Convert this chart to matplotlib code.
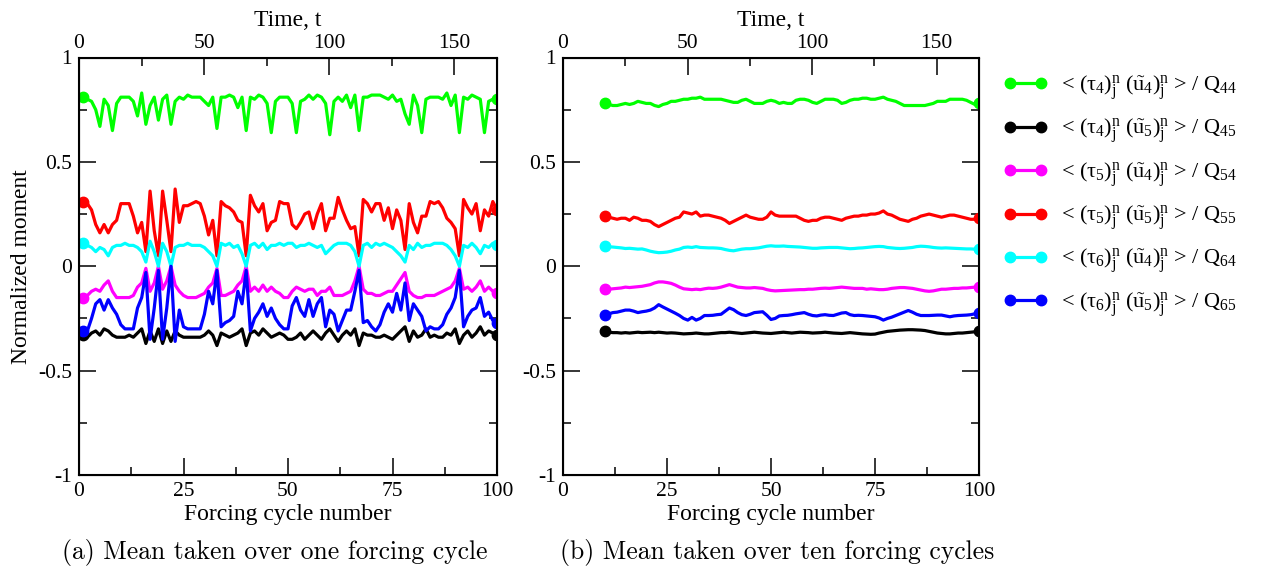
import matplotlib
matplotlib.use("Agg")
import matplotlib.pyplot as plt
import numpy as np

plt.rcParams['font.family'] = ['Liberation Serif', 'DejaVu Serif']
plt.rcParams['mathtext.fontset'] = 'stix'
plt.rcParams['mathtext.default'] = 'regular'
plt.rcParams['axes.unicode_minus'] = False

# (a) one-cycle means, forcing cycles 1..100
cycles_a = list(range(1, 101))
green_a = [0.81, 0.80, 0.79, 0.75, 0.67, 0.80, 0.77, 0.65, 0.78, 0.81,
           0.81, 0.81, 0.79, 0.72, 0.83, 0.68, 0.77, 0.81, 0.70, 0.80,
           0.82, 0.68, 0.79, 0.81, 0.80, 0.82, 0.81, 0.81, 0.81, 0.79,
           0.77, 0.81, 0.66, 0.81, 0.81, 0.82, 0.81, 0.76, 0.81, 0.65,
           0.81, 0.80, 0.82, 0.81, 0.78, 0.64, 0.79, 0.81, 0.81, 0.81,
           0.78, 0.64, 0.79, 0.80, 0.82, 0.80, 0.82, 0.81, 0.78, 0.63,
           0.79, 0.81, 0.79, 0.82, 0.76, 0.82, 0.65, 0.81, 0.81, 0.82,
           0.82, 0.82, 0.81, 0.80, 0.82, 0.79, 0.80, 0.73, 0.68, 0.82,
           0.77, 0.64, 0.80, 0.81, 0.81, 0.81, 0.80, 0.83, 0.77, 0.82,
           0.64, 0.81, 0.80, 0.82, 0.81, 0.80, 0.64, 0.79, 0.80, 0.80]
black_a = [-0.33, -0.34, -0.32, -0.31, -0.33, -0.30, -0.31, -0.33, -0.34, -0.34,
           -0.34, -0.33, -0.34, -0.32, -0.30, -0.37, -0.31, -0.36, -0.30, -0.37,
           -0.31, -0.36, -0.31, -0.33, -0.34, -0.34, -0.34, -0.34, -0.34, -0.33,
           -0.31, -0.33, -0.38, -0.32, -0.33, -0.34, -0.33, -0.32, -0.30, -0.38,
           -0.32, -0.31, -0.33, -0.30, -0.32, -0.34, -0.33, -0.32, -0.33, -0.35,
           -0.35, -0.34, -0.32, -0.35, -0.33, -0.31, -0.33, -0.35, -0.32, -0.30,
           -0.33, -0.36, -0.33, -0.31, -0.33, -0.30, -0.38, -0.32, -0.33, -0.33,
           -0.34, -0.34, -0.33, -0.34, -0.35, -0.33, -0.31, -0.29, -0.36, -0.31,
           -0.34, -0.33, -0.30, -0.34, -0.33, -0.34, -0.34, -0.32, -0.33, -0.30,
           -0.37, -0.33, -0.31, -0.34, -0.32, -0.29, -0.33, -0.31, -0.32, -0.33]
magenta_a = [-0.15, -0.14, -0.12, -0.11, -0.12, -0.09, -0.07, -0.12, -0.15, -0.15,
             -0.15, -0.15, -0.14, -0.10, -0.08, -0.01, -0.12, -0.08, 0.00, -0.11,
             -0.07, 0.00, -0.09, -0.12, -0.14, -0.15, -0.15, -0.15, -0.14, -0.13,
             -0.10, -0.08, -0.01, -0.14, -0.14, -0.13, -0.12, -0.09, -0.07, 0.00,
             -0.12, -0.10, -0.12, -0.09, -0.12, -0.10, -0.12, -0.13, -0.15, -0.15,
             -0.12, -0.10, -0.11, -0.12, -0.11, -0.11, -0.14, -0.12, -0.12, -0.10,
             -0.14, -0.14, -0.14, -0.13, -0.12, -0.07, 0.00, -0.11, -0.13, -0.13,
             -0.14, -0.14, -0.13, -0.12, -0.12, -0.09, -0.06, -0.03, -0.12, -0.14,
             -0.15, -0.15, -0.14, -0.14, -0.14, -0.13, -0.12, -0.11, -0.10, -0.07,
             -0.01, -0.11, -0.10, -0.12, -0.10, -0.07, -0.12, -0.10, -0.12, -0.13]
red_a = [0.31, 0.30, 0.27, 0.20, 0.16, 0.20, 0.16, 0.20, 0.22, 0.30,
         0.30, 0.30, 0.24, 0.16, 0.21, 0.07, 0.36, 0.17, 0.05, 0.36,
         0.22, 0.07, 0.37, 0.21, 0.29, 0.29, 0.30, 0.31, 0.30, 0.24,
         0.15, 0.22, 0.05, 0.31, 0.29, 0.28, 0.26, 0.22, 0.21, 0.05,
         0.34, 0.29, 0.26, 0.30, 0.17, 0.21, 0.22, 0.31, 0.30, 0.30,
         0.20, 0.18, 0.21, 0.25, 0.26, 0.18, 0.25, 0.30, 0.17, 0.23,
         0.23, 0.33, 0.27, 0.22, 0.18, 0.19, 0.05, 0.32, 0.30, 0.26,
         0.30, 0.30, 0.22, 0.28, 0.18, 0.27, 0.22, 0.08, 0.30, 0.21,
         0.16, 0.24, 0.24, 0.31, 0.30, 0.31, 0.28, 0.23, 0.21, 0.18,
         0.05, 0.32, 0.28, 0.25, 0.30, 0.17, 0.27, 0.24, 0.31, 0.27]
cyan_a = [0.11, 0.10, 0.09, 0.07, 0.09, 0.08, 0.05, 0.09, 0.10, 0.10,
          0.11, 0.10, 0.10, 0.09, 0.07, 0.02, 0.12, 0.07, 0.00, 0.11,
          0.07, 0.00, 0.09, 0.10, 0.10, 0.11, 0.10, 0.10, 0.10, 0.09,
          0.07, 0.05, 0.00, 0.11, 0.10, 0.11, 0.09, 0.10, 0.06, 0.00,
          0.10, 0.11, 0.09, 0.11, 0.08, 0.10, 0.10, 0.11, 0.10, 0.11,
          0.11, 0.09, 0.10, 0.10, 0.11, 0.10, 0.09, 0.10, 0.06, 0.08,
          0.10, 0.11, 0.11, 0.11, 0.10, 0.07, 0.00, 0.10, 0.11, 0.09,
          0.11, 0.10, 0.11, 0.10, 0.09, 0.07, 0.05, 0.02, 0.10, 0.08,
          0.11, 0.09, 0.10, 0.10, 0.11, 0.11, 0.11, 0.10, 0.08, 0.05,
          0.00, 0.10, 0.09, 0.11, 0.09, 0.06, 0.10, 0.09, 0.11, 0.10]
blue_a = [-0.31, -0.31, -0.25, -0.18, -0.16, -0.21, -0.16, -0.20, -0.23, -0.28,
          -0.30, -0.30, -0.30, -0.20, -0.15, -0.03, -0.35, -0.20, -0.02, -0.35,
          -0.20, 0.00, -0.36, -0.21, -0.29, -0.30, -0.30, -0.30, -0.30, -0.23,
          -0.12, -0.18, -0.02, -0.29, -0.27, -0.26, -0.24, -0.12, -0.18, -0.02,
          -0.31, -0.25, -0.22, -0.18, -0.24, -0.20, -0.25, -0.28, -0.30, -0.30,
          -0.19, -0.15, -0.21, -0.24, -0.16, -0.24, -0.18, -0.15, -0.29, -0.21,
          -0.23, -0.31, -0.26, -0.21, -0.21, -0.12, -0.02, -0.27, -0.26, -0.29,
          -0.31, -0.28, -0.22, -0.18, -0.22, -0.13, -0.21, -0.08, -0.26, -0.18,
          -0.21, -0.24, -0.31, -0.29, -0.30, -0.30, -0.28, -0.23, -0.20, -0.15,
          -0.02, -0.29, -0.24, -0.21, -0.20, -0.15, -0.24, -0.22, -0.26, -0.27]

# (b) ten-cycle means, forcing cycles 10..100
cycles_b = list(range(10, 101))
green_b = [0.78, 0.775, 0.77, 0.77, 0.775, 0.78, 0.775, 0.78, 0.79, 0.785,
           0.78, 0.78, 0.77, 0.765, 0.775, 0.78, 0.79, 0.79, 0.795, 0.80,
           0.80, 0.805, 0.805, 0.81, 0.80, 0.80, 0.80, 0.80, 0.80, 0.795,
           0.79, 0.785, 0.785, 0.795, 0.80, 0.79, 0.78, 0.78, 0.78, 0.79,
           0.795, 0.79, 0.78, 0.785, 0.78, 0.78, 0.795, 0.80, 0.80, 0.795,
           0.785, 0.78, 0.79, 0.80, 0.80, 0.80, 0.795, 0.78, 0.785, 0.795,
           0.80, 0.80, 0.805, 0.805, 0.80, 0.80, 0.805, 0.81, 0.80, 0.795,
           0.79, 0.78, 0.77, 0.77, 0.77, 0.77, 0.77, 0.77, 0.775, 0.78,
           0.79, 0.79, 0.79, 0.80, 0.80, 0.80, 0.80, 0.795, 0.785, 0.775, 0.78]
black_b = [-0.311, -0.316, -0.318, -0.318, -0.32, -0.318, -0.32, -0.318, -0.316, -0.318,
           -0.317, -0.316, -0.318, -0.316, -0.318, -0.32, -0.319, -0.32, -0.322, -0.324,
           -0.323, -0.322, -0.32, -0.322, -0.324, -0.324, -0.322, -0.32, -0.318, -0.318,
           -0.316, -0.318, -0.32, -0.322, -0.32, -0.318, -0.316, -0.318, -0.32, -0.321,
           -0.322, -0.32, -0.318, -0.316, -0.318, -0.32, -0.318, -0.316, -0.317, -0.318,
           -0.32, -0.319, -0.318, -0.316, -0.318, -0.32, -0.321, -0.322, -0.32, -0.318,
           -0.32, -0.322, -0.324, -0.325, -0.326, -0.325, -0.32, -0.316, -0.312, -0.31,
           -0.308, -0.306, -0.305, -0.304, -0.304, -0.305, -0.306, -0.308, -0.312, -0.316,
           -0.32, -0.322, -0.324, -0.324, -0.322, -0.32, -0.32, -0.318, -0.316, -0.314, -0.312]
magenta_b = [-0.11, -0.11, -0.108, -0.106, -0.104, -0.10, -0.102, -0.10, -0.098, -0.096,
             -0.092, -0.088, -0.08, -0.075, -0.075, -0.078, -0.082, -0.09, -0.10, -0.108,
             -0.11, -0.112, -0.11, -0.112, -0.108, -0.105, -0.106, -0.104, -0.10, -0.094,
             -0.088, -0.094, -0.10, -0.102, -0.104, -0.104, -0.102, -0.104, -0.106, -0.112,
             -0.116, -0.118, -0.117, -0.116, -0.115, -0.114, -0.113, -0.112, -0.112, -0.11,
             -0.11, -0.108, -0.106, -0.105, -0.106, -0.104, -0.102, -0.10, -0.102, -0.104,
             -0.106, -0.106, -0.106, -0.11, -0.108, -0.11, -0.112, -0.112, -0.11, -0.106,
             -0.104, -0.102, -0.102, -0.104, -0.106, -0.11, -0.114, -0.118, -0.12, -0.118,
             -0.114, -0.11, -0.11, -0.108, -0.106, -0.106, -0.104, -0.104, -0.102, -0.10, -0.10]
red_b = [0.24, 0.235, 0.23, 0.225, 0.23, 0.23, 0.22, 0.235, 0.23, 0.22,
         0.22, 0.215, 0.20, 0.19, 0.20, 0.21, 0.22, 0.23, 0.235, 0.26,
         0.255, 0.25, 0.26, 0.24, 0.245, 0.245, 0.24, 0.235, 0.23, 0.22,
         0.205, 0.215, 0.225, 0.235, 0.245, 0.235, 0.23, 0.225, 0.225, 0.235,
         0.26, 0.245, 0.24, 0.24, 0.24, 0.24, 0.24, 0.23, 0.22, 0.215,
         0.22, 0.22, 0.23, 0.235, 0.235, 0.23, 0.225, 0.22, 0.23, 0.235,
         0.24, 0.24, 0.245, 0.245, 0.25, 0.25, 0.255, 0.265, 0.25, 0.245,
         0.235, 0.225, 0.22, 0.215, 0.225, 0.23, 0.24, 0.245, 0.25, 0.245,
         0.24, 0.235, 0.24, 0.245, 0.245, 0.24, 0.235, 0.23, 0.225, 0.225, 0.23]
cyan_b = [0.095, 0.093, 0.092, 0.09, 0.088, 0.085, 0.086, 0.084, 0.082, 0.083,
          0.078, 0.072, 0.068, 0.065, 0.066, 0.068, 0.072, 0.078, 0.082, 0.09,
          0.092, 0.09, 0.094, 0.09, 0.089, 0.088, 0.088, 0.087, 0.085, 0.08,
          0.076, 0.074, 0.078, 0.082, 0.084, 0.084, 0.086, 0.088, 0.092, 0.096,
          0.098, 0.096, 0.096, 0.097, 0.095, 0.094, 0.093, 0.092, 0.09, 0.088,
          0.086, 0.086, 0.088, 0.089, 0.09, 0.09, 0.09, 0.088, 0.086, 0.084,
          0.085, 0.087, 0.088, 0.09, 0.092, 0.094, 0.095, 0.094, 0.09, 0.088,
          0.086, 0.085, 0.086, 0.088, 0.09, 0.094, 0.096, 0.095, 0.093, 0.09,
          0.088, 0.087, 0.088, 0.087, 0.086, 0.085, 0.084, 0.083, 0.083, 0.082, 0.082]
blue_b = [-0.232, -0.228, -0.222, -0.22, -0.215, -0.21, -0.21, -0.215, -0.222, -0.218,
          -0.215, -0.21, -0.20, -0.184, -0.195, -0.205, -0.215, -0.225, -0.236, -0.25,
          -0.258, -0.245, -0.258, -0.25, -0.236, -0.236, -0.235, -0.232, -0.23, -0.215,
          -0.20, -0.208, -0.222, -0.232, -0.236, -0.23, -0.222, -0.22, -0.218, -0.235,
          -0.255, -0.25, -0.238, -0.236, -0.235, -0.232, -0.228, -0.225, -0.222, -0.23,
          -0.236, -0.238, -0.234, -0.232, -0.235, -0.236, -0.23, -0.224, -0.222, -0.232,
          -0.236, -0.235, -0.236, -0.238, -0.24, -0.242, -0.248, -0.258, -0.25, -0.244,
          -0.236, -0.228, -0.22, -0.212, -0.22, -0.23, -0.236, -0.236, -0.236, -0.235,
          -0.234, -0.234, -0.238, -0.242, -0.238, -0.236, -0.235, -0.234, -0.232, -0.228, -0.222]

colors = ['#00ff00', '#000000', '#ff00ff', '#ff0000', '#00ffff', '#0000ff']
labels = [r'< $(\tau_4)^n_j\ (\~{u}_4)^n_j$ > / $Q_{44}$',
          r'< $(\tau_4)^n_j\ (\~{u}_5)^n_j$ > / $Q_{45}$',
          r'< $(\tau_5)^n_j\ (\~{u}_4)^n_j$ > / $Q_{54}$',
          r'< $(\tau_5)^n_j\ (\~{u}_5)^n_j$ > / $Q_{55}$',
          r'< $(\tau_6)^n_j\ (\~{u}_4)^n_j$ > / $Q_{64}$',
          r'< $(\tau_6)^n_j\ (\~{u}_5)^n_j$ > / $Q_{65}$']

fig = plt.figure(figsize=(12.61, 5.75), dpi=100)
ax_a = fig.add_axes([79 / 1261, 100 / 575, 418 / 1261, 417.5 / 575])
ax_b = fig.add_axes([563 / 1261, 100 / 575, 416 / 1261, 417.5 / 575])

series_a = [green_a, black_a, magenta_a, red_a, cyan_a, blue_a]
series_b = [green_b, black_b, magenta_b, red_b, cyan_b, blue_b]

handles = []
for ax, xs, data in [(ax_a, cycles_a, series_a), (ax_b, cycles_b, series_b)]:
    for ys, c, lab in zip(data, colors, labels):
        h, = ax.plot(xs, ys, color=c, lw=2.3, marker='o', ms=7.5,
                     markevery=[0, len(xs) - 1], label=lab)
        if ax is ax_a:
            handles.append(h)

    ax.set_xlim(0, 100)
    ax.set_ylim(-1, 1)
    ax.set_xticks([0, 25, 50, 75, 100])
    ax.set_xticklabels(['0', '25', '50', '75', '100'])
    ax.set_xticks([12.5, 37.5, 62.5, 87.5], minor=True)
    ax.set_yticks([-1, -0.5, 0, 0.5, 1])
    ax.set_yticklabels(['-1', '-0.5', '0', '0.5', '1'])
    ax.set_yticks([-0.75, -0.25, 0.25, 0.75], minor=True)
    ax.tick_params(which='both', direction='in', right=True, labelsize=15.5,
                   width=1.1, pad=5)
    ax.tick_params(axis='x', which='both', top=False)
    ax.tick_params(which='major', length=12)
    ax.tick_params(which='minor', length=6)
    for sp in ax.spines.values():
        sp.set_linewidth(1.5)
    ax.set_xlabel('Forcing cycle number', fontsize=17, labelpad=2)

    top = ax.twiny()
    top.set_xlim(0, 167)
    top.set_xticks([0, 50, 100, 150])
    top.set_xticklabels(['0', '50', '100', '150'])
    top.set_xticks([25, 75, 125], minor=True)
    top.tick_params(which='both', direction='in', labelsize=15.5, width=1.1, pad=3)
    top.tick_params(which='major', length=12)
    top.tick_params(which='minor', length=6)
    top.set_xlabel('Time, t', fontsize=17, labelpad=6)

ax_a.set_ylabel('Normalized moment', fontsize=17, labelpad=4)

fig.legend(handles=handles, loc='upper left', bbox_to_anchor=(1003 / 1261, 1 - 73 / 575),
           frameon=False, numpoints=2, fontsize=16, handlelength=2.0,
           handletextpad=0.6, labelspacing=0.62, borderaxespad=0, borderpad=0)

fig.text(275 / 1261, 1 - 553 / 575, '(a) Mean taken over one forcing cycle',
         family='cmr10', fontsize=18.5, ha='center', va='center')
fig.text(777 / 1261, 1 - 553 / 575, '(b) Mean taken over ten forcing cycles',
         family='cmr10', fontsize=18.5, ha='center', va='center')

fig.savefig('out.png', dpi=100)
